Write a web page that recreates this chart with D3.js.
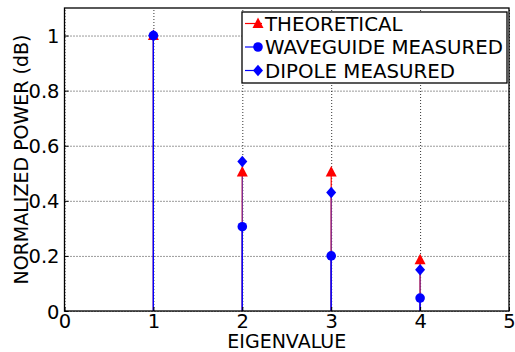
<html>
<head>
  <meta charset="UTF-8">
  <script src="https://d3js.org/d3.v7.min.js"></script>
  <style>
    body { margin: 0; background: #fff; }
    text { font-family: "DejaVu Sans", sans-serif; fill: #000; }
    .grid line { stroke: #000; stroke-width: 0.8; stroke-dasharray: 1, 2; }
    .grid .domain { stroke: none; }
  </style>
</head>
<body>
  <svg id="chart" width="515" height="352"></svg>
  <script>
    // chart data
    const eigenvalues = [1, 2, 3, 4];
    const theoretical = [1.0, 0.505, 0.505, 0.186];
    const waveguide = [1.0, 0.306, 0.200, 0.047];
    const dipole = [1.0, 0.543, 0.430, 0.150];
    const xTicks = [0, 1, 2, 3, 4, 5];
    const yTicks = [0, 0.2, 0.4, 0.6, 0.8, 1];
    const seriesNames = ["THEORETICAL", "WAVEGUIDE MEASURED", "DIPOLE MEASURED"];

    const svg = d3.select("svg#chart");
    const margins = { top: 8, right: 6, bottom: 41, left: 64.5 };
    const width = 515 - margins.left - margins.right;
    const height = 352 - margins.top - margins.bottom;

    const x = d3.scaleLinear().domain([0, 5]).range([0, width]);
    const y = d3.scaleLinear().domain([0, 1.1]).range([height, 0]);

    const g = svg.append("g").attr("transform", `translate(${margins.left},${margins.top})`);

    // dotted gridlines
    g.append("g").attr("class", "grid")
      .call(d3.axisLeft(y).tickValues(yTicks).tickFormat("").tickSize(-width));
    g.append("g").attr("class", "grid").attr("transform", `translate(0,${height})`)
      .call(d3.axisBottom(x).tickValues(xTicks).tickFormat("").tickSize(-height));

    // stems + markers for each series
    const series = [
      { vals: theoretical, color: "red", stem: "red", marker: "triangle" },
      { vals: waveguide, color: "blue", stem: "blue", marker: "circle" },
      { vals: dipole, color: "blue", stem: "#7030a0", marker: "diamond" }
    ];

    function drawMarker(sel, type, color) {
      if (type === "circle") {
        sel.append("circle").attr("r", 4.8).attr("fill", color);
      } else if (type === "triangle") {
        sel.append("path").attr("d", "M0,-6L5.5,4.5L-5.5,4.5Z").attr("fill", color);
      } else {
        sel.append("path").attr("d", "M0,-5.8L5,0L0,5.8L-5,0Z").attr("fill", color);
      }
    }

    series.forEach(s => {
      g.selectAll(null).data(eigenvalues)
        .join("line")
        .attr("x1", d => x(d)).attr("x2", d => x(d))
        .attr("y1", y(0)).attr("y2", (d, i) => y(s.vals[i]))
        .attr("stroke", s.stem).attr("stroke-width", 1.2);
    });
    // waveguide stem drawn on top up to its own value
    g.selectAll(null).data(eigenvalues)
      .join("line")
      .attr("x1", d => x(d)).attr("x2", d => x(d))
      .attr("y1", y(0)).attr("y2", (d, i) => y(Math.min(waveguide[i], theoretical[i])))
      .attr("stroke", "blue").attr("stroke-width", 1.2);

    series.forEach(s => {
      g.selectAll(null).data(eigenvalues)
        .join("g")
        .attr("transform", (d, i) => `translate(${x(d)},${y(s.vals[i])})`)
        .each(function () { drawMarker(d3.select(this), s.marker, s.color); });
    });

    // frame
    g.append("rect").attr("width", width).attr("height", height)
      .attr("fill", "none").attr("stroke", "#000").attr("stroke-width", 1.3);

    // axes: tick labels + inward ticks
    const yAxis = g.append("g")
      .call(d3.axisLeft(y).tickValues(yTicks).tickSizeInner(-4).tickSizeOuter(0).tickPadding(5)
        .tickFormat(d => d === 0 ? "0" : d === 1 ? "1" : d3.format(".1f")(d)));
    yAxis.select(".domain").remove();
    yAxis.selectAll("text").style("font-size", "19.5px").attr("dy", "0.36em");

    const xAxis = g.append("g").attr("transform", `translate(0,${height})`)
      .call(d3.axisBottom(x).tickValues(xTicks).tickSizeInner(-4).tickSizeOuter(0).tickPadding(5)
        .tickFormat(d3.format("d")));
    xAxis.select(".domain").remove();
    xAxis.selectAll("text").style("font-size", "19.5px").attr("dy", "0.6em");

    // axis labels
    svg.append("text")
      .attr("x", margins.left + width / 2).attr("y", 347.5)
      .attr("text-anchor", "middle").style("font-size", "19px")
      .text("EIGENVALUE");
    svg.append("text")
      .attr("transform", `translate(28,${margins.top + height / 2}) rotate(-90)`)
      .attr("text-anchor", "middle").style("font-size", "19px")
      .text("NORMALIZED POWER (dB)");

    // legend
    const legend = svg.append("g").attr("transform", "translate(242,12)");
    legend.append("rect").attr("width", 265).attr("height", 71)
      .attr("fill", "#fff").attr("stroke", "#000").attr("stroke-width", 1.3);
    series.forEach((s, i) => {
      const row = legend.append("g").attr("transform", `translate(0,${11.5 + i * 23.5})`);
      row.append("line").attr("x1", 3).attr("x2", 20).attr("stroke", s.color)
        .attr("stroke-width", 1.2);
      const m = row.append("g").attr("transform", "translate(16,0)");
      drawMarker(m, s.marker, s.color);
      row.append("text").attr("x", 23).attr("dy", "0.36em")
        .style("font-size", "19.8px").text(seriesNames[i]);
    });
  </script>
</body>
</html>
